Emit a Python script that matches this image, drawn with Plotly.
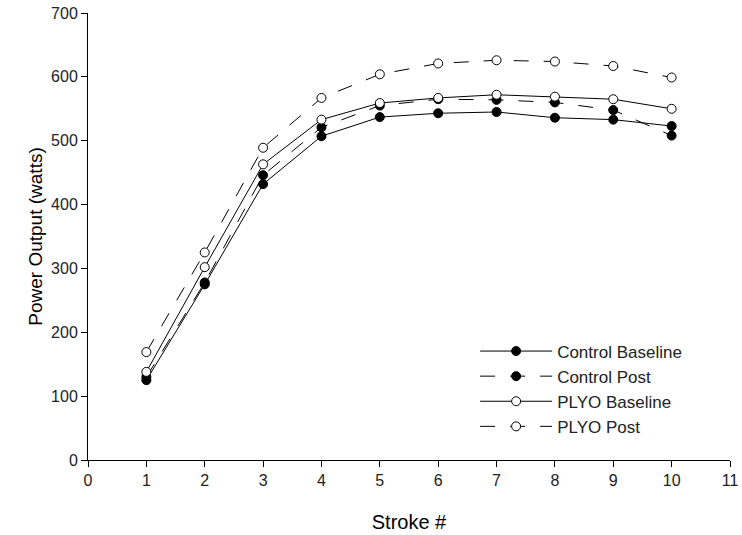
import plotly.graph_objects as go

strokes = [1, 2, 3, 4, 5, 6, 7, 8, 9, 10]
control_baseline = [125, 275, 432, 507, 537, 543, 545, 536, 533, 523]
control_post = [130, 278, 446, 521, 555, 565, 564, 560, 548, 508]
plyo_baseline = [138, 302, 463, 533, 559, 567, 572, 569, 565, 550]
plyo_post = [169, 325, 489, 567, 604, 621, 626, 624, 617, 599]

series = [
    ("Control Baseline", control_baseline, "solid", "black"),
    ("Control Post", control_post, "longdash", "black"),
    ("PLYO Baseline", plyo_baseline, "solid", "white"),
    ("PLYO Post", plyo_post, "longdash", "white"),
]

fig = go.Figure()
for name, vals, dash, fill in series:
    fig.add_trace(go.Scatter(
        x=strokes, y=vals, name=name, mode="lines+markers",
        line=dict(color="black", width=1, dash=dash),
        marker=dict(symbol="circle", size=9, color=fill,
                    line=dict(color="black", width=1)),
    ))

font_family = "Liberation Sans, Arial, sans-serif"
fig.update_layout(
    width=742, height=535,
    margin=dict(l=88, r=12, t=13, b=75, autoexpand=False),
    paper_bgcolor="white", plot_bgcolor="white",
    font=dict(family=font_family, color="black", size=16),
    showlegend=True,
    legend=dict(x=0.603, y=0.283, xanchor="left", yanchor="top",
                itemwidth=72,
                bgcolor="rgba(0,0,0,0)", font=dict(size=17, color="#222"),
                tracegroupgap=0),
    xaxis=dict(range=[0, 11], tickmode="array",
               tickvals=list(range(0, 12)), automargin=False,
               showgrid=False, zeroline=False, showline=True,
               linecolor="black", linewidth=1, ticks="outside",
               ticklen=6, tickcolor="black",
               title=dict(text="Stroke #", font=dict(size=20), standoff=26),
               tickfont=dict(size=16, color="#222")),
    yaxis=dict(range=[0, 700], tickmode="array",
               tickvals=[0, 100, 200, 300, 400, 500, 600, 700], automargin=False,
               showgrid=False, zeroline=False, showline=True,
               linecolor="black", linewidth=1, ticks="outside",
               ticklen=6, tickcolor="black",
               title=dict(text="Power Output (watts)", font=dict(size=19), standoff=3),
               tickfont=dict(size=16, color="#222")),
)

fig.write_html(
    "out.html",
    config={"displayModeBar": False},
    post_script="document.body.style.margin='0';document.body.style.overflow='hidden';",
)
